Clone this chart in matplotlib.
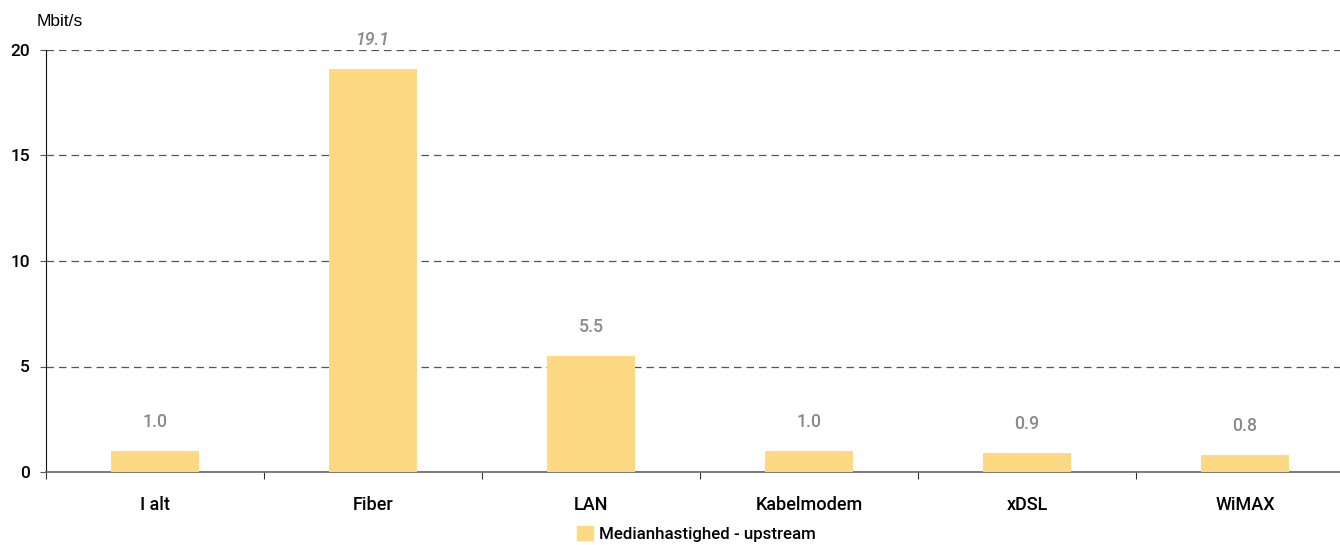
import matplotlib
matplotlib.use('Agg')
import matplotlib.pyplot as plt
from matplotlib.patches import Patch

categories = ['I alt', 'Fiber', 'LAN', 'Kabelmodem', 'xDSL', 'WiMAX']
values = [1.0, 19.1, 5.5, 1.0, 0.9, 0.8]
labels = ['1.0', '19.1', '5.5', '1.0', '0.9', '0.8']
series_name = 'Medianhastighed - upstream'

bar_color = '#FDD983'
label_font = 'Roboto'

fig = plt.figure(figsize=(13.4, 5.45), dpi=100)
ax = fig.add_axes([46 / 1340, 73 / 545, 1308 / 1340, 422 / 545])

x = list(range(len(categories)))
ax.bar(x, values, width=0.4, color=bar_color, zorder=3)

# value labels above bars (the tall one is italic, as in the source)
for i, (v, lab) in enumerate(zip(values, labels)):
    style = 'italic' if v > 15 else 'normal'
    ax.text(i, v + 0.95, lab, ha='center', va='bottom', fontsize=12.8,
            color='#8a8a8a', style=style, family=label_font, weight='medium')

ax.set_xlim(-0.5, 5.5)
ax.set_ylim(0, 20)
ax.set_yticks([0, 5, 10, 15, 20])
ax.set_yticklabels(['0', '5', '10', '15', '20'], fontsize=12.5,
                   family=label_font, weight='medium')
ax.yaxis.grid(True, linestyle=(0, (6, 4)), color='#555555', linewidth=0.9, zorder=0)

ax.set_xticks([i + 0.5 for i in range(-1, 6)], minor=False)
ax.set_xticklabels([])
ax.set_xticks(x, minor=True)
ax.set_xticklabels(categories, minor=True, fontsize=13, family=label_font,
                   weight='medium')
ax.tick_params(axis='x', which='minor', length=0, pad=17)
ax.tick_params(axis='x', which='major', length=5, color='#333333')
ax.tick_params(axis='y', length=4.5, color='#555555', pad=7)

for s in ['top', 'right']:
    ax.spines[s].set_visible(False)
ax.spines['left'].set_color('#111111')
ax.spines['bottom'].set_color('#666666')
ax.spines['bottom'].set_linewidth(1.2)

fig.text(37 / 1340, 1 - 21 / 545, 'Mbit/s', fontsize=12.5, family='Liberation Sans',
         va='center', ha='left')

handle = Patch(color=bar_color, label=series_name)
fig.legend(handles=[handle], loc='center', bbox_to_anchor=(0.52, 1 - 534 / 545),
           frameon=False, handlelength=0.9, handleheight=0.9, handletextpad=0.4,
           prop={'family': label_font, 'weight': 'medium', 'size': 12.2})

fig.savefig('out.png', dpi=100)
